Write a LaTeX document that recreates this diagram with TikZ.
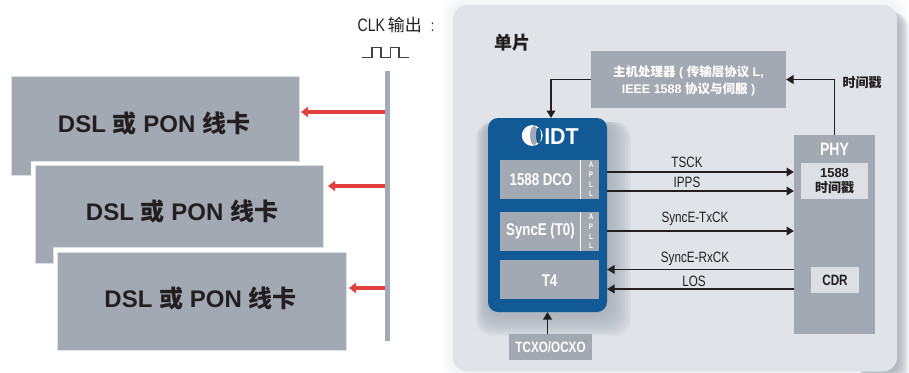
\documentclass[tikz,border=0pt]{standalone}
\usepackage{fontspec}
\setmainfont{Liberation Sans}
\newfontfamily\cjk{Noto Sans CJK SC}
\newfontfamily\narrowf[FakeStretch=0.78]{Liberation Sans}
\usetikzlibrary{arrows.meta,calc}
\definecolor{gbox}{HTML}{A2A9B3}
\definecolor{lbox}{HTML}{DCDFE4}
\definecolor{panel}{HTML}{E0E3E8}
\definecolor{chipblue}{HTML}{115A96}
\definecolor{ink}{HTML}{231F20}
\definecolor{redarrow}{HTML}{E33F3F}
\newcommand{\fs}[1]{\fontsize{#1}{#1}\selectfont}
\newcommand{\cardtext}{\textbf{DSL {\cjk 或} PON {\cjk 线卡}}}
\newcommand{\stamp}{{\cjk\bfseries 时间戳}}
\tikzset{
  every node/.style={inner sep=0pt,outer sep=0pt},
  grey/.style={fill=gbox,text=white,align=center,font=\bfseries},
  light/.style={fill=lbox,text=ink,align=center,font=\bfseries},
  cardfill/.style={fill=gbox,draw=lbox,line width=0.7pt},
  sig/.style={draw=ink,line width=1.9pt,-{Triangle[length=7.5pt,width=8.5pt]}},
  clkarrow/.style={draw=redarrow,line width=3.2pt,-{Triangle[length=7pt,width=10pt]}},
  siglabel/.style={text=ink,font=\narrowf\fs{15}},
  cardlabel/.style={text=ink,font=\fs{24}},
  apll/.style={text=white,align=center,font=\narrowf\bfseries\fs{8},text width=8pt},
  boxlabel/.style={text=white,font=\narrowf\bfseries\fs{17}}
}
\begin{document}
\begin{tikzpicture}[x=1pt,y=-1pt]
\useasboundingbox (0,0) rectangle (909,372);
\fill[white] (0,0) rectangle (909,372);
\begin{scope}
\clip (0,0) rectangle (909,372);
% panel shadow: faint all round, stronger on the right
\foreach \d in {10,8,...,2}
  \fill[gbox,opacity=0.025,rounded corners=16pt] (453-\d,5-\d) rectangle (897+\d,374+\d);
\foreach \d in {12,11,...,1}
  \fill[gbox,opacity=0.10,rounded corners=16pt] (860,12) rectangle (897+\d,374+\d);
\fill[panel,rounded corners=14pt] (453,5) rectangle (897,371.5);
% chip shadow
\foreach \d in {24,22,...,2}
  \fill[gbox,opacity=0.11,rounded corners=16pt] (488-\d*0.5,122) rectangle (607+\d,312+\d);
\end{scope}

% cards
\path[cardfill] (11,76) -- (299,76) -- (299,161) -- (31,161) -- (31,175) -- (11,175) -- cycle;
\fill[white] (30.7,161.5) rectangle (34,176);
\path[cardfill] (35,165) -- (323,165) -- (323,247) -- (53,247) -- (53,263) -- (35,263) -- cycle;
\path[cardfill] (57,252) rectangle (346,350);
\node[minimum width=288pt,minimum height=85pt] (card1) at (155,118.5) {};
\node[minimum width=288pt,minimum height=82pt] (card2) at (179,206) {};
\node[minimum width=289pt,minimum height=98pt] (card3) at (201.5,301) {};
\node[cardlabel] (t1) at (154,123) {\cardtext};
\node[cardlabel] (t2) at (182,211) {\cardtext};
\node[cardlabel] (t3) at (200.5,298) {\cardtext};

% clock bar
\node[fill=gbox,minimum width=5pt,minimum height=270pt] (bar) at (387.5,206) {};
\node[text=ink] (clk) at (396,25) {{\narrowf\fs{18}CLK} {\cjk\fs{17}输出}\hspace{9pt}{\narrowf\fs{16}:}};
\draw[ink!85,line width=1.1pt] (362,57.5) -- (372,57.5) -- (372,47.5) -- (381,47.5) -- (381,57.5) -- (390.5,57.5) -- (390.5,47.5) -- (399,47.5) -- (399,57.5) -- (409,57.5);
\draw[clkarrow] (bar.west |- 0,112) -- (301,112);
\draw[clkarrow] (bar.west |- 0,186) -- (328,186);
\draw[clkarrow] (bar.west |- 0,288) -- (349,288);

% panel content
\node[text=ink,font=\cjk\bfseries\fs{18}] (title) at (512,43) {单片};
\node[grey,minimum width=195pt,minimum height=57pt] (host) at (688.5,79.5) {};
\node[text=white,align=center,font=\bfseries\fs{12.5}] (hosttext) at (688.5,81)
  {{\cjk 主机处理器} ( {\cjk 传输层协议} L,\\[2.8pt] IEEE 1588 {\cjk 协议与伺服} )};
\node[grey,minimum width=81pt,minimum height=199pt] (phy) at (834.5,234.5) {};
\node[text=white,font=\narrowf\bfseries\fs{18}] (phyl) at (834.5,149) {PHY};
\node[light,minimum width=67pt,minimum height=36pt] (stampbox) at (834.5,181) {};
\node[text=ink,font=\bfseries\fs{13},align=center] (stampt) at (834.5,181.5) {1588\\[2pt]\stamp};
\node[light,minimum width=48pt,minimum height=26pt] (cdr) at (835,280) {};
\node[text=ink,font=\narrowf\bfseries\fs{15}] (cdrt) at (835,280) {CDR};
\node[text=ink,font=\fs{13}] (stamplabel) at (862,83) {\stamp};

% chip
\node[fill=chipblue,rounded corners=10pt,minimum width=119pt,minimum height=194pt] (chip) at (547.5,215) {};
\fill[white] (532.2,135.5) circle (10.4pt);
\fill[gbox] (534,135.5) ellipse (4pt and 9.5pt);
\fill[chipblue] (538.5,135.5) ellipse (2.5pt and 8pt);
\node[text=white,font=\bfseries\fs{23}] (idt) at (561.5,136.3) {\addfontfeature{FakeStretch=0.93}IDT};
\node[grey,minimum width=99pt,minimum height=39pt] (dco) at (549.5,179.5) {};
\node[grey,minimum width=99pt,minimum height=39pt] (sync) at (549.5,231.5) {};
\node[grey,minimum width=99pt,minimum height=39pt] (t4) at (549.5,279.5) {};
\node[boxlabel] (dcot) at (541,179.5) {1588 DCO};
\node[boxlabel] (synct) at (540.5,231.5) {SyncE (T0)};
\node[boxlabel] (t4t) at (549.5,281) {T4};
\draw[white,line width=1pt] (580.2,160) -- (580.2,199);
\draw[white,line width=1pt] (580.2,212) -- (580.2,251);
\node[apll] (ap1) at (591,179.5) {A\\[1.6pt]P\\[1.6pt]L\\[1.6pt]L};
\node[apll] (ap2) at (591,231.5) {A\\[1.6pt]P\\[1.6pt]L\\[1.6pt]L};
\node[grey,minimum width=83pt,minimum height=26pt,font=\narrowf\bfseries\fs{15}] (osc) at (550.5,347) {TCXO/OCXO};

% connectors
\draw[sig] (phy.north) |- (host.east);
\draw[sig] (host.west) -| (chip.north -| 551,0);
\draw[sig] (osc.north -| chip.south) -- (chip.south);
\draw[sig] (chip.east |- 0,172) -- (phy.west |- 0,172);
\draw[sig] (chip.east |- 0,191) -- (phy.west |- 0,191);
\draw[sig] (chip.east |- 0,231) -- (phy.west |- 0,231);
\draw[sig] (phy.west |- 0,269.5) -- (chip.east |- 0,269.5);
\draw[sig] (phy.west |- 0,289) -- (chip.east |- 0,289);
\node[siglabel] (l1) at (687,162) {TSCK};
\node[siglabel] (l2) at (687,182) {IPPS};
\node[siglabel] (l3) at (695,219) {SyncE-TxCK};
\node[siglabel] (l4) at (695,258.5) {SyncE-RxCK};
\node[siglabel] (l5) at (694,281) {LOS};
\end{tikzpicture}
\end{document}
